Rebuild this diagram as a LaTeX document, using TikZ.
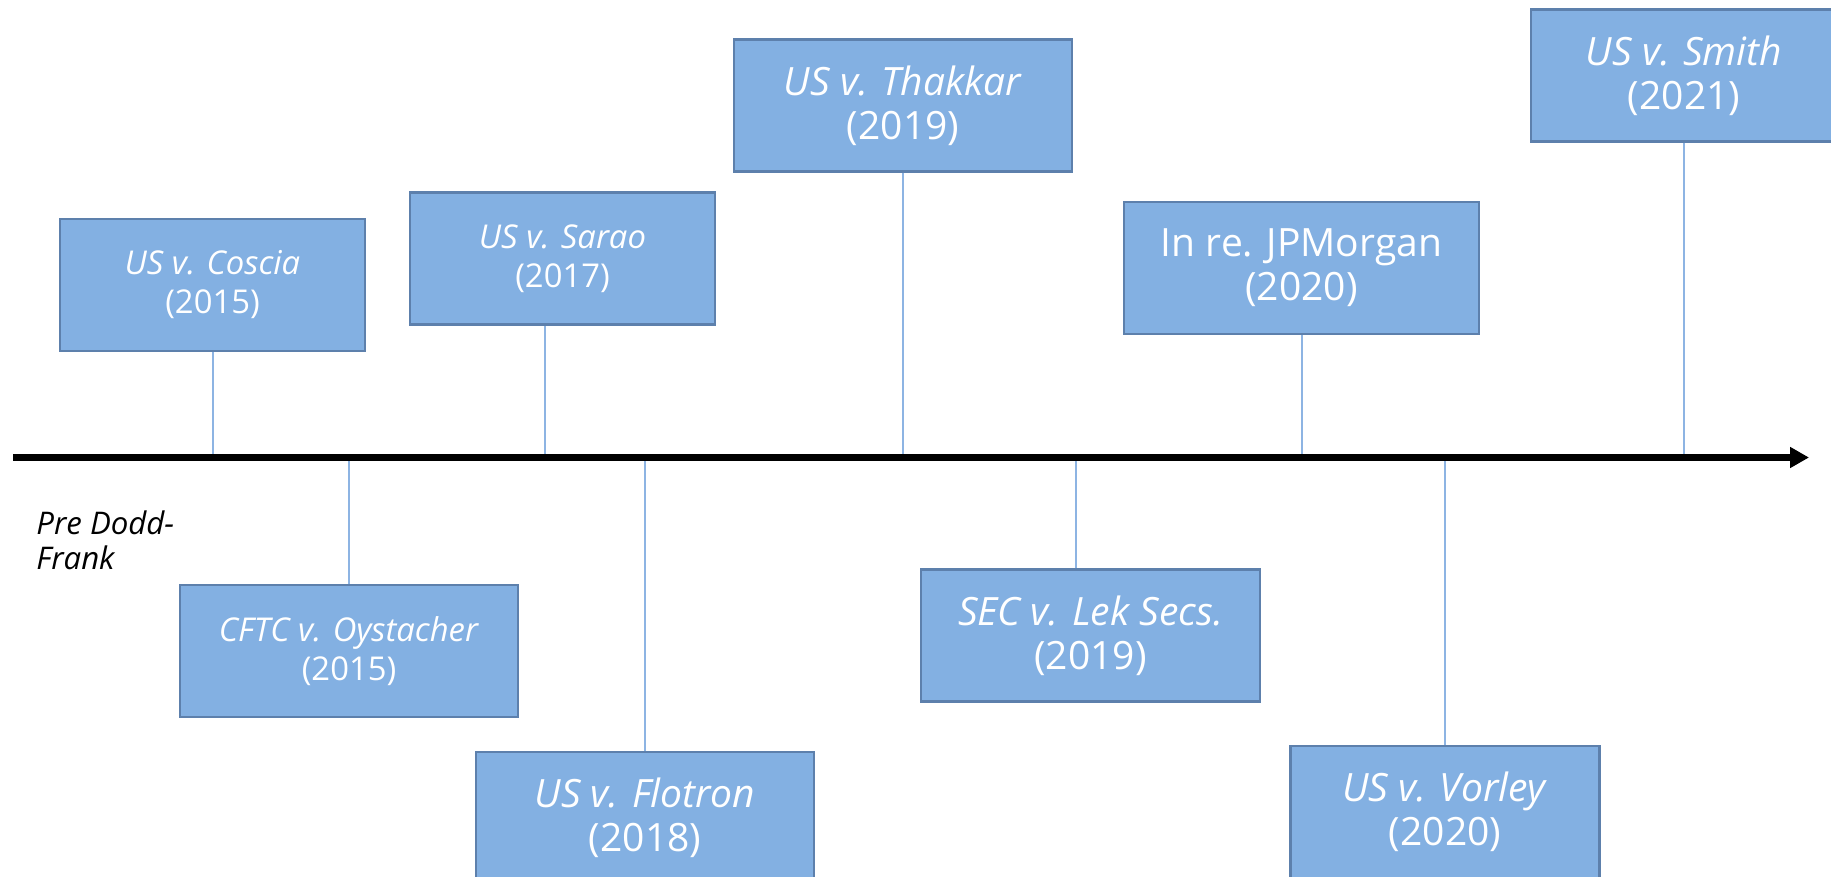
\documentclass[tikz,border=0pt]{standalone}
\usepackage{fontspec}
\setmainfont{Open Sans}
\usetikzlibrary{arrows.meta}
\definecolor{boxfill}{RGB}{131,176,226}
\definecolor{boxline}{RGB}{93,128,172}
\definecolor{connline}{RGB}{141,180,227}
\tikzset{
  casebox/.style={draw=boxline, fill=boxfill, line width=1.25pt, text=white,
    align=center, inner sep=0pt, minimum height=66pt},
  small/.style={font=\fontsize{16.4}{19.5}\selectfont},
  large/.style={font=\fontsize{19.5}{22}\selectfont},
  conn/.style={draw=connline, line width=1pt},
  axisline/.style={line width=3.5pt, -{Triangle[length=9.5pt,width=10pt]}}
}
\begin{document}
\begin{tikzpicture}[x=0.5pt,y=-0.5pt]
\useasboundingbox (0,0) rectangle (1831,877);
% boxes
\node[casebox, small, minimum width=152.5pt] (coscia) at (212.5,285) {\textit{US v. Coscia}\\(2015)};
\node[casebox, small, minimum width=169pt] (oyst) at (349,651) {\textit{CFTC v. Oystacher}\\(2015)};
\node[casebox, small, minimum width=152.5pt] (sarao) at (562.5,258.5) {\textit{US v. Sarao}\\(2017)};
\node[casebox, large, minimum width=169pt] (flot) at (645,818) {\textit{US v. Flotron}\\(2018)};
\node[casebox, large, minimum width=169pt] (thak) at (903,105.5) {\textit{US v. Thakkar}\\(2019)};
\node[casebox, large, minimum width=169.5pt] (lek) at (1090.5,635.5) {\textit{SEC v. Lek Secs.}\\(2019)};
\node[casebox, large, minimum width=177.5pt] (jpm) at (1301.5,268) {In re. JPMorgan\\(2020)};
\node[casebox, large, minimum width=154.5pt] (vorl) at (1445,812) {\textit{US v. Vorley}\\(2020)};
\node[casebox, large, minimum width=153pt] (smith) at (1684,75.5) {\textit{US v. Smith}\\(2021)};
% axis coordinates
\coordinate (axL) at (13,457.5);
\coordinate (axR) at (1809,457.5);
% connectors
\draw[conn] (coscia.south) -- (coscia.south |- axL);
\draw[conn] (oyst.north) -- (oyst.north |- axL);
\draw[conn] ([xshift=-8.75pt]sarao.south) -- ([xshift=-8.75pt]sarao.south |- axL);
\draw[conn] (flot.north) -- (flot.north |- axL);
\draw[conn] (thak.south) -- (thak.south |- axL);
\draw[conn] ([xshift=-7.25pt]lek.north) -- ([xshift=-7.25pt]lek.north |- axL);
\draw[conn] (jpm.south) -- (jpm.south |- axL);
\draw[conn] (vorl.north) -- (vorl.north |- axL);
\draw[conn] (smith.south) -- (smith.south |- axL);
% axis
\draw[axisline] (axL) -- (axR);
% label
\node[anchor=base west, inner sep=0pt, align=left, font=\fontsize{15.6}{17.5}\selectfont\itshape] (pre) at (36,569) {Pre Dodd-\\Frank};
\end{tikzpicture}
\end{document}
